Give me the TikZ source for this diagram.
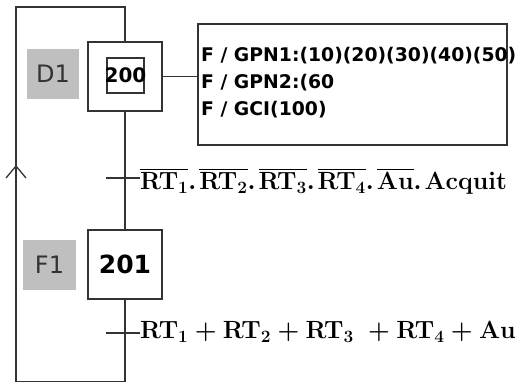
\documentclass[tikz,border=0pt]{standalone}
\usepackage{fontspec}
\usepackage{amsmath}
\usetikzlibrary{arrows.meta,positioning}
\newfontfamily\grafsf{DejaVu Sans}
\tikzset{
  ligne/.style={draw=black!80, line width=1.3pt},
  stepbox/.style={ligne, minimum width=74pt, minimum height=69pt, inner sep=0pt},
  tagbox/.style={fill=black!25, minimum width=52pt, minimum height=50pt, inner sep=0pt,
    text=black!80, font=\grafsf\fontsize{24}{24}\selectfont},
  acttxt/.style={anchor=base west, inner sep=0pt, font=\grafsf\bfseries\fontsize{18.8}{18.8}\selectfont},
  recept/.style={anchor=west, inner sep=0pt, font=\fontsize{25}{25}\selectfont\boldmath},
}
\newcommand{\pt}{.\hspace{3pt}}
\begin{document}
\begin{tikzpicture}[x=1pt,y=-1pt]
  \useasboundingbox (0,0) rectangle (528,383);
  % etapes
  \node[stepbox] (S200) at (125,76.5) {};
  \node[ligne, minimum width=37pt, minimum height=35pt, inner sep=0pt] (in200) at (125.5,75.5) {};
  \node[font=\grafsf\bfseries\fontsize{20}{20}\selectfont, inner sep=0pt] at (in200) {200};
  \node[stepbox, font=\grafsf\bfseries\fontsize{25}{25}\selectfont] (S201) at (125,264.5) {201};
  \node[tagbox] (D1) at (53,74) {D1};
  \node[tagbox, minimum width=53pt] (F1) at (49.5,265) {F1};
  % actions
  \node[ligne, minimum width=309pt, minimum height=121pt, inner sep=0pt] (act) at (352.5,84.5) {};
  \node[acttxt] (a1) at (201,61) {F / GPN1:(10)(20)(30)(40)(50)};
  \node[acttxt] (a2) at (201,88) {F / GPN2:(60};
  \node[acttxt] (a3) at (201,115) {F / GCI(100)};
  \draw[ligne] (S200.east) -- (S200.east -| act.west);
  % transitions
  \coordinate (T1) at (125,178);
  \coordinate (T2) at (125,333);
  \draw[ligne] (S200.south) -- (S201.north);
  \draw[ligne] (T1) ++(-19,0) -- ++(34,0);
  \draw[ligne] (T2) ++(-19,0) -- ++(34,0);
  \node[recept] (r1) at (140,181)
    {$\overline{\mathbf{RT}_1}\pt\overline{\mathbf{RT}_2}\pt\overline{\mathbf{RT}_3}\pt\overline{\mathbf{RT}_4}\pt\overline{\mathbf{Au}}\pt\mathbf{Acquit}$};
  \node[recept] (r2) at (140,332)
    {$\mathbf{RT}_1+\mathbf{RT}_2+\mathbf{RT}_3\;+\mathbf{RT}_4+\mathbf{Au}$};
  % retour
  \coordinate (bas) at (125,381.5);
  \coordinate (basg) at (16,381.5);
  \coordinate (fl) at (16,165);
  \coordinate (haut) at (16,7);
  \draw[ligne] (S201.south) -- (bas) -- (basg) -- (haut) -- (haut -| S200.north) -- (S200.north);
  \draw[ligne, -{Straight Barb[length=12pt,width=20pt]}] (basg) -- (fl);
\end{tikzpicture}
\end{document}
